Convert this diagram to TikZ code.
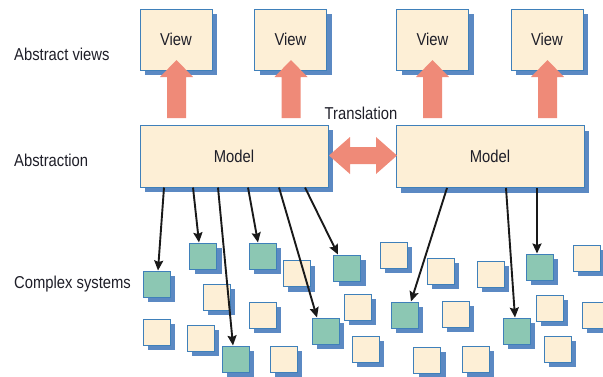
\documentclass[tikz,border=0pt]{standalone}
\usepackage{fontspec}
\setmainfont[FakeStretch=0.86]{Liberation Sans}
\usetikzlibrary{shadows,arrows.meta}
\definecolor{beige}{HTML}{FDEFD6}
\definecolor{edgeblue}{HTML}{3F80BA}
\definecolor{shadowblue}{HTML}{5B89C3}
\definecolor{greenbox}{HTML}{8CC7B3}
\definecolor{salmon}{HTML}{EF8A78}
\definecolor{txt}{HTML}{1E1E28}
\begin{document}
\begin{tikzpicture}[x=1pt,y=-1pt,
  font=\fontsize{17.2}{19}\selectfont, text=txt,
  boxbase/.style={draw=edgeblue, line width=1pt, inner sep=0pt,
    general shadow={fill=shadowblue, shadow xshift=5pt, shadow yshift=-5pt}},
  viewbox/.style={boxbase, fill=beige, minimum width=72pt, minimum height=61pt},
  modelbox/.style={boxbase, fill=beige, minimum width=188pt, minimum height=62pt},
  sq/.style={boxbase, fill=beige, minimum width=27pt, minimum height=26pt},
  gsq/.style={boxbase, fill=greenbox, minimum width=27pt, minimum height=26pt},
  lbl/.style={anchor=west, inner sep=0pt},
  link/.style={line width=1.9pt, black!90, -{Stealth[length=10pt,width=9pt,inset=1.5pt]}},
  blockarrow/.style={fill=salmon, draw=none}
]
\useasboundingbox (0,0) rectangle (603,376);

% labels
\node[lbl] (lav) at (14,54) {Abstract views};
\node[lbl] (lab) at (14,160) {Abstraction};
\node[lbl] (lcs) at (14,284) {Complex systems};
\node[inner sep=0pt] (tr) at (361,113) {Translation};

% views
\node[viewbox] (v1) at (176,39.5) {View};
\node[viewbox] (v2) at (290.5,39.5) {View};
\node[viewbox] (v3) at (432.5,39.5) {View};
\node[viewbox] (v4) at (547,39.5) {View};

% models
\node[modelbox] (mL) at (234,156) {Model};
\node[modelbox] (mR) at (490,156.5) {Model};

% up block arrows
\foreach \cx in {176.5,291,432.5,547.5}{
  \fill[blockarrow] (\cx-9.5,118) -- (\cx-9.5,77) -- (\cx-16.5,77) -- (\cx,60)
    -- (\cx+16.5,77) -- (\cx+9.5,77) -- (\cx+9.5,118) -- cycle;
}
% double arrow
\fill[blockarrow] (329,155.5) -- (350,137) -- (350,147) -- (376,147) -- (376,137)
  -- (397,155.5) -- (376,174) -- (376,164) -- (350,164) -- (350,174) -- cycle;

% beige squares
\node[sq] (b1) at (296.5,273.5) {};
\node[sq] (b2) at (216.5,297) {};
\node[sq] (b3) at (262.5,315) {};
\node[sq] (b4) at (357.5,307) {};
\node[sq] (b5) at (156.5,332) {};
\node[sq] (b6) at (200.5,338) {};
\node[sq] (b7) at (283.5,359) {};
\node[sq] (b8) at (365.5,349) {};
\node[sq] (b9) at (393.5,255) {};
\node[sq] (b10) at (440.5,271) {};
\node[sq] (b11) at (490.5,274) {};
\node[sq] (b12) at (586.5,258) {};
\node[sq] (b13) at (455.5,314) {};
\node[sq] (b14) at (549.5,308) {};
\node[sq] (b15) at (595.5,315) {};
\node[sq] (b16) at (557.5,349) {};
\node[sq] (b17) at (427,360) {};
\node[sq] (b18) at (475.5,359) {};

% green squares
\node[gsq] (g1) at (156.5,284) {};
\node[gsq] (g2) at (203,256) {};
\node[gsq] (g3) at (262.5,256) {};
\node[gsq] (g4) at (347,268) {};
\node[gsq] (g5) at (235.5,359) {};
\node[gsq] (g6) at (325.5,331) {};
\node[gsq] (g7) at (404.5,315) {};
\node[gsq] (g8) at (516.5,331) {};
\node[gsq] (g9) at (539.5,267) {};

% connectors from left model
\draw[link] ([xshift=-70pt]mL.south) -- ([xshift=1.5pt]g1.north);
\draw[link] ([xshift=-41pt]mL.south) -- ([xshift=-4pt]g2.north);
\draw[link] ([xshift=-16pt]mL.south) -- ([xshift=-2.5pt]g5.north);
\draw[link] ([xshift=14pt]mL.south) -- ([xshift=-4.5pt]g3.north);
\draw[link] ([xshift=45pt]mL.south) -- ([xshift=-8.5pt]g6.north);
\draw[link] ([xshift=71pt]mL.south) -- ([xshift=-9pt]g4.north);
% connectors from right model
\draw[link] ([xshift=-43pt]mR.south) -- ([xshift=6.5pt]g7.north);
\draw[link] ([xshift=16pt]mR.south) -- ([xshift=-1.5pt]g8.north);
\draw[link] ([xshift=47pt]mR.south) -- ([xshift=-2.5pt]g9.north);
\end{tikzpicture}
\end{document}
